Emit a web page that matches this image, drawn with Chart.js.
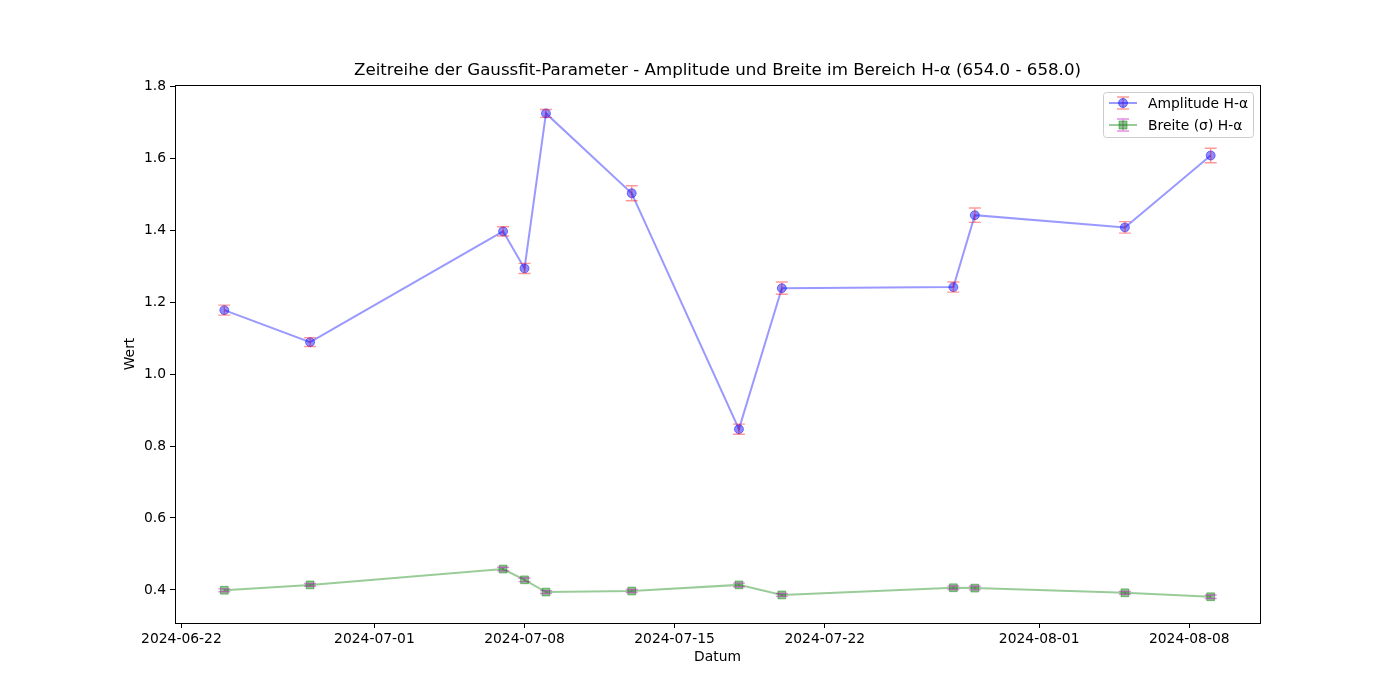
<!DOCTYPE html>
<html>
<head>
  <title>Gaussfit Zeitreihe</title>
  <script src="https://cdn.jsdelivr.net/npm/chart.js@4.4.1/dist/chart.umd.min.js"></script>
  <style>
    body { margin: 0; background: #fff; }
  </style>
</head>
<body>
  <canvas id="chart" width="1400" height="700"></canvas>
  <script>
    var dates = ['2024-06-24', '2024-06-28', '2024-07-07', '2024-07-08', '2024-07-09', '2024-07-13',
                 '2024-07-18', '2024-07-20', '2024-07-28', '2024-07-29', '2024-08-05', '2024-08-09'];
    var amplitude    = [1.178, 1.089, 1.397, 1.294, 1.725, 1.503, 0.847, 1.239, 1.242, 1.442, 1.408, 1.608];
    var amplitudeErr = [0.014, 0.012, 0.013, 0.014, 0.011, 0.021, 0.014, 0.017, 0.014, 0.020, 0.016, 0.020];
    var breite    = [0.399, 0.414, 0.458, 0.428, 0.394, 0.397, 0.414, 0.386, 0.406, 0.405, 0.392, 0.381];
    var breiteErr = [0.004, 0.004, 0.005, 0.005, 0.004, 0.004, 0.005, 0.004, 0.005, 0.005, 0.004, 0.005];
    var tickDates = ['2024-06-22', '2024-07-01', '2024-07-08', '2024-07-15', '2024-07-22', '2024-08-01', '2024-08-08'];
    var yTicks = [0.4, 0.6, 0.8, 1.0, 1.2, 1.4, 1.6, 1.8];
    var titleText = 'Zeitreihe der Gaussfit-Parameter - Amplitude und Breite im Bereich H-\u03b1 (654.0 - 658.0)';

    var FONT = 'DejaVu Sans';
    var origin = Date.UTC(2024, 6, 1);
    function toDay(s) {
      var p = s.split('-');
      return (Date.UTC(+p[0], +p[1] - 1, +p[2]) - origin) / 86400000;
    }
    function points(vals) {
      return vals.map(function (v, i) { return { x: toDay(dates[i]), y: v }; });
    }

    // matplotlib-artige 5% Raender
    var xs = dates.map(toDay);
    var xMin = Math.min.apply(null, xs), xMax = Math.max.apply(null, xs);
    var xPad = (xMax - xMin) * 0.05;
    var lows = amplitude.map(function (v, i) { return v - amplitudeErr[i]; })
      .concat(breite.map(function (v, i) { return v - breiteErr[i]; }));
    var highs = amplitude.map(function (v, i) { return v + amplitudeErr[i]; })
      .concat(breite.map(function (v, i) { return v + breiteErr[i]; }));
    var yMin = Math.min.apply(null, lows), yMax = Math.max.apply(null, highs);
    var yPad = (yMax - yMin) * 0.05;

    var errorBars = {
      id: 'errorBars',
      afterDatasetsDraw: function (chart) {
        var ctx = chart.ctx;
        var ys = chart.scales.y;
        chart.data.datasets.forEach(function (ds, i) {
          var meta = chart.getDatasetMeta(i);
          ctx.save();
          ctx.strokeStyle = ds.errColor;
          ctx.lineWidth = 1.4;
          meta.data.forEach(function (pt, j) {
            var v = ds.data[j].y, e = ds.errors[j];
            var t = ys.getPixelForValue(v + e), b = ys.getPixelForValue(v - e);
            ctx.beginPath();
            ctx.moveTo(pt.x, t); ctx.lineTo(pt.x, b);
            ctx.moveTo(pt.x - 6, t); ctx.lineTo(pt.x + 6, t);
            ctx.moveTo(pt.x - 6, b); ctx.lineTo(pt.x + 6, b);
            ctx.stroke();
          });
          ctx.restore();
        });
      }
    };

    var frameAndLegend = {
      id: 'frameAndLegend',
      afterDraw: function (chart) {
        var ctx = chart.ctx, a = chart.chartArea;
        ctx.save();
        ctx.strokeStyle = '#000';
        ctx.lineWidth = 1;
        ctx.strokeRect(a.left + 0.5, a.top + 0.5, a.right - a.left, a.bottom - a.top);

        // Titel ueber der Zeichenflaeche zentriert
        ctx.fillStyle = '#000';
        ctx.font = '16.67px "' + FONT + '"';
        ctx.textAlign = 'center';
        ctx.textBaseline = 'middle';
        ctx.fillText(titleText, (a.left + a.right) / 2, 71);
        ctx.textAlign = 'left';

        // Legende oben rechts
        var bw = 150, bh = 45;
        var bx = a.right - 7 - bw, by = a.top + 7;
        ctx.fillStyle = 'rgba(255,255,255,0.8)';
        ctx.strokeStyle = '#cccccc';
        ctx.beginPath();
        ctx.roundRect(bx + 0.5, by + 0.5, bw, bh, 3);
        ctx.fill();
        ctx.stroke();
        ctx.font = '13.89px "' + FONT + '"';
        chart.data.datasets.forEach(function (ds, i) {
          var cy = by + 11 + i * 22;
          var lx = bx + 6, mx = lx + 14;
          ctx.strokeStyle = ds.borderColor;
          ctx.lineWidth = 2;
          ctx.beginPath(); ctx.moveTo(lx, cy); ctx.lineTo(lx + 28, cy); ctx.stroke();
          ctx.strokeStyle = ds.errColor;
          ctx.lineWidth = 1.4;
          ctx.beginPath();
          ctx.moveTo(mx, cy - 6); ctx.lineTo(mx, cy + 6);
          ctx.moveTo(mx - 6, cy - 6); ctx.lineTo(mx + 6, cy - 6);
          ctx.moveTo(mx - 6, cy + 6); ctx.lineTo(mx + 6, cy + 6);
          ctx.stroke();
          ctx.fillStyle = ds.pointBackgroundColor;
          ctx.strokeStyle = ds.pointBorderColor;
          ctx.lineWidth = 1;
          ctx.beginPath();
          if (ds.pointStyle === 'rect') ctx.rect(mx - 4, cy - 4, 8, 8);
          else ctx.arc(mx, cy, 4.5, 0, Math.PI * 2);
          ctx.fill(); ctx.stroke();
          ctx.fillStyle = '#000';
          ctx.fillText(ds.label, bx + 45, cy + 1);
        });
        ctx.restore();
      }
    };

    var chart = new Chart(document.getElementById('chart'), {
      type: 'line',
      data: {
        datasets: [
          {
            label: 'Amplitude H-\u03b1',
            data: points(amplitude),
            errors: amplitudeErr,
            errColor: 'rgba(255,0,0,0.4)',
            borderColor: 'rgba(0,0,255,0.4)',
            borderWidth: 2,
            pointStyle: 'circle',
            pointRadius: 4.5,
            pointBackgroundColor: 'rgba(0,0,255,0.45)',
            pointBorderColor: 'rgba(0,0,255,0.45)',
            pointBorderWidth: 1,
            tension: 0
          },
          {
            label: 'Breite (\u03c3) H-\u03b1',
            data: points(breite),
            errors: breiteErr,
            errColor: 'rgba(200,0,200,0.45)',
            borderColor: 'rgba(0,128,0,0.4)',
            borderWidth: 2,
            pointStyle: 'rect',
            pointRadius: 5.5,
            pointBackgroundColor: 'rgba(0,128,0,0.45)',
            pointBorderColor: 'rgba(0,128,0,0.45)',
            pointBorderWidth: 1,
            tension: 0
          }
        ]
      },
      options: {
        responsive: false,
        animation: false,
        layout: { padding: { left: 120, right: 140, top: 85, bottom: 32 } },
        plugins: {
          legend: { display: false },
          tooltip: { enabled: false },
          title: { display: false }
        },
        scales: {
          x: {
            type: 'linear',
            min: xMin - xPad,
            max: xMax + xPad,
            afterBuildTicks: function (s) {
              s.ticks = tickDates.map(function (d) { return { value: toDay(d) }; });
            },
            afterFit: function (s) { s.height = 45; },
            ticks: {
              color: '#000',
              font: { family: FONT, size: 13.89 },
              padding: 3,
              maxRotation: 0,
              autoSkip: false,
              callback: function (v) {
                var d = new Date(origin + v * 86400000);
                return d.toISOString().slice(0, 10);
              }
            },
            grid: { drawOnChartArea: false, drawTicks: true, tickLength: 5, color: '#000' },
            border: { display: true, color: '#000' },
            title: {
              display: true,
              text: 'Datum',
              color: '#000',
              font: { family: FONT, size: 13.89 },
              padding: { top: 0, bottom: 2 }
            }
          },
          y: {
            type: 'linear',
            min: yMin - yPad,
            max: yMax + yPad,
            afterBuildTicks: function (s) {
              s.ticks = yTicks.map(function (v) { return { value: v }; });
            },
            afterFit: function (s) { s.width = 55; },
            ticks: {
              color: '#000',
              font: { family: FONT, size: 13.89 },
              padding: 4,
              callback: function (v) { return v.toFixed(1); }
            },
            grid: { drawOnChartArea: false, drawTicks: true, tickLength: 5, color: '#000' },
            border: { display: true, color: '#000' },
            title: {
              display: true,
              text: 'Wert',
              color: '#000',
              font: { family: FONT, size: 13.89 },
              padding: { top: 2, bottom: 0 }
            }
          }
        }
      },
      plugins: [errorBars, frameAndLegend]
    });
  </script>
</body>
</html>
